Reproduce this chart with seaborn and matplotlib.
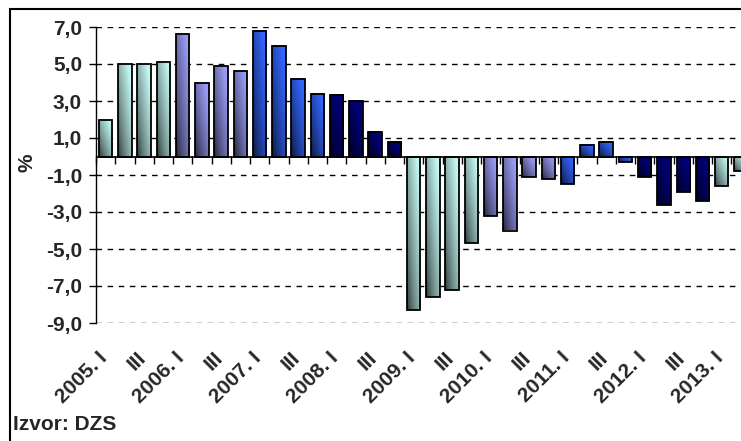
import numpy as np
import pandas as pd
import matplotlib
matplotlib.use('Agg')
import matplotlib.pyplot as plt
import matplotlib.colors as mcolors
import matplotlib.transforms as mtransforms
from matplotlib.patches import Rectangle
import seaborn as sns

years = list(range(2005, 2014))
roman = ['I', 'II', 'III', 'IV']
quarters = [f"{y}. {r}" for y in years for r in roman][:34]

values = [2.0, 5.0, 5.0, 5.1,
          6.6, 4.0, 4.9, 4.6,
          6.8, 6.0, 4.2, 3.4,
          3.3, 3.0, 1.3, 0.8,
          -8.3, -7.6, -7.2, -4.7,
          -3.2, -4.0, -1.1, -1.2,
          -1.5, 0.6, 0.8, -0.3,
          -1.1, -2.6, -1.9, -2.4,
          -1.6, -0.8]

year_colors = ['#c4f7f2', '#9a9cf5', '#3366ff', '#000080']
bar_colors = [year_colors[i // 4 % 4] for i in range(len(values))]

tick_labels = [q if q.endswith('. I') else (q.split('. ')[1] if q.endswith('III') else '')
               for q in quarters]
yticks = [7, 5, 3, 1, -1, -3, -5, -7, -9]

df = pd.DataFrame({'quarter': quarters, 'value': values})

sns.set_style('white')
plt.rcParams['font.family'] = ['Liberation Sans', 'DejaVu Sans']
plt.rcParams['font.weight'] = 'bold'

fig = plt.figure(figsize=(7.41, 4.41), dpi=100)
ax = fig.add_axes([96 / 741, 1 - 323 / 441, 1 - 96 / 741, (323 - 27) / 441])

sns.barplot(data=df, x='quarter', y='value', hue='quarter', palette=bar_colors,
            legend=False, width=0.7, ax=ax, edgecolor='black', linewidth=1.3)

# gradient fill inside each bar: dark lower-left, light upper-right
nx, ny = 24, 60
xf = np.linspace(0, 1, nx)[None, :]
yf = np.linspace(0, 1, ny)[:, None]
for p, c in zip(ax.patches, bar_colors):
    x0, w = p.get_x(), p.get_width()
    y0, h = p.get_y(), p.get_height()
    ylo, yhi = min(y0, y0 + h), max(y0, y0 + h)
    t = np.clip(0.6 * xf + 0.55 * yf, 0, 1) ** 0.75
    shade = 0.2 + 0.8 * t
    rgb = np.array(mcolors.to_rgb(c))
    img = shade[..., None] * rgb[None, None, :]
    ax.imshow(img, extent=[x0, x0 + w, ylo, yhi], origin='lower',
              aspect='auto', zorder=2, interpolation='bilinear')
    p.set_facecolor('none')
    p.set_zorder(3)

ax.set_xlim(-0.5, 32.93)
ax.set_ylim(-9, 7)
ax.set_yticks(yticks)
ax.set_yticklabels([f"{v:.1f}".replace('.', ',') for v in yticks], fontsize=15, fontweight='bold')
ax.set_xticks(range(len(quarters)))
ax.set_xticklabels(tick_labels, rotation=45, ha='right', rotation_mode='anchor',
                   fontsize=15, fontweight='bold')
ax.tick_params(axis='x', length=0, pad=16)
ax.tick_params(axis='y', length=5, width=1, direction='out', pad=5, left=True, color='black')
shift = mtransforms.ScaledTranslation(-8 / 100, -3 / 100, fig.dpi_scale_trans)
for lab in ax.get_xticklabels():
    lab.set_transform(lab.get_transform() + shift)
ax.set_xlabel('')
ax.set_ylabel('%', fontsize=15, fontweight='bold')
ax.yaxis.set_label_coords(-0.093, 0.54)

for s in ['top', 'right', 'bottom']:
    ax.spines[s].set_visible(False)
ax.spines['left'].set_color('black')
ax.spines['left'].set_linewidth(1)

ax.grid(axis='y', color='black', linestyle=(0, (4, 4)), linewidth=1)
ax.set_axisbelow(True)

# category axis sits at zero
ax.axhline(0, color='black', linewidth=1.2, zorder=4)
sec = ax.secondary_xaxis(9 / 16)
sec.set_xticks(np.arange(-0.5, len(quarters), 1))
sec.xaxis.set_ticks_position('bottom')
sec.tick_params(axis='x', length=6, width=1, direction='out', color='black',
                labelbottom=False, labeltop=False)
for s in sec.spines.values():
    s.set_visible(False)

fig.text(13 / 741, 1 - 425 / 441, 'Izvor: DZS', fontsize=15, fontweight='bold',
         va='center', ha='left')
fig.patches.append(Rectangle((10 / 741, -0.1), 1.2, 1.1 - 9 / 441, transform=fig.transFigure,
                             fill=False, edgecolor='black', linewidth=1.5))

fig.savefig('out.png', dpi=100)
